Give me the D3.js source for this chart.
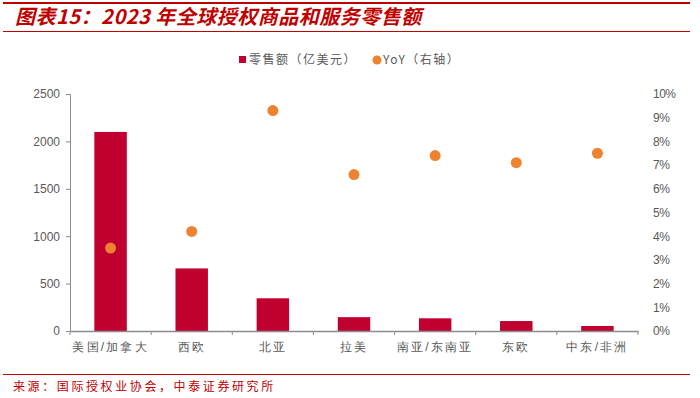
<!DOCTYPE html>
<html lang="zh">
<head>
<meta charset="UTF-8">
<title>2023年全球授权商品和服务零售额</title>
<style>
  body { margin: 0; background: #fff; }
  svg { display: block; font-family: "Noto Sans CJK SC", "Noto Sans", sans-serif; }
</style>
</head>
<body>
<script src="https://cdn.jsdelivr.net/npm/d3@7/dist/d3.min.js"></script>
<script>
  const width = 700, height = 398

  // 数据
  const regions = ["美国/加拿大", "西欧", "北亚", "拉美", "南亚/东南亚", "东欧", "中东/非洲"]
  const sales = [2100, 660, 345, 146, 134, 105, 53]        // 零售额（亿美元）
  const yoy = [0.035, 0.042, 0.093, 0.066, 0.074, 0.071, 0.075] // YoY（右轴）
  const leftTicks = [0, 500, 1000, 1500, 2000, 2500]
  const rightTicks = [0, 0.01, 0.02, 0.03, 0.04, 0.05, 0.06, 0.07, 0.08, 0.09, 0.10]

  const red = "#C00000", barColor = "#C0002F", dotColor = "#EE822F", grey = "#595959"

  const svg = d3.select("body").append("svg")
    .attr("width", width).attr("height", height)

  // 标题和分隔线
  svg.append("rect").attr("x", 3).attr("y", 2).attr("width", 687).attr("height", 2).attr("fill", red)
  svg.append("text").attr("x", 15).attr("y", 24)
    .attr("fill", red).attr("font-size", 20).attr("font-weight", "bold").attr("font-style", "italic")
    .attr("letter-spacing", 0.5)
    .text("图表15：2023 年全球授权商品和服务零售额")
  svg.append("rect").attr("x", 3).attr("y", 31).attr("width", 687).attr("height", 1).attr("fill", red)

  svg.append("rect").attr("x", 3).attr("y", 374).attr("width", 687).attr("height", 1).attr("fill", red)
  svg.append("text").attr("x", 13).attr("y", 391)
    .attr("fill", red).attr("font-size", 12).attr("letter-spacing", 2.6)
    .text("来源：国际授权业协会，中泰证券研究所")

  // 图例
  const lg = svg.append("g").attr("font-size", 12).attr("fill", grey).attr("letter-spacing", 1.5)
  lg.append("rect").attr("x", 239).attr("y", 56).attr("width", 7).attr("height", 7).attr("fill", barColor)
  lg.append("text").attr("x", 249).attr("y", 64).text("零售额（亿美元）")
  lg.append("circle").attr("cx", 377).attr("cy", 60).attr("r", 4.5).attr("fill", dotColor)
  lg.append("text").attr("x", 383).attr("y", 64).text("YoY（右轴）")

  // 比例尺
  const x0 = 70, x1 = 638, yTop = 94, yBot = 331
  const x = d3.scaleBand().domain(regions).range([x0, x1]).paddingInner(0.6).paddingOuter(0.3)
  const xb = d3.scaleBand().domain(regions).range([x0, x1])
  const yL = d3.scaleLinear().domain([0, 2500]).range([yBot, yTop])
  const yR = d3.scaleLinear().domain([0, 0.10]).range([yBot, yTop])

  // 柱子
  svg.append("g").selectAll("rect").data(sales).enter().append("rect")
    .attr("x", (d, i) => x(regions[i]))
    .attr("width", x.bandwidth())
    .attr("y", d => yL(d))
    .attr("height", d => yBot - yL(d))
    .attr("fill", barColor)

  // 左轴
  const axL = svg.append("g").attr("transform", `translate(${x0},0)`)
    .call(d3.axisLeft(yL).tickValues(leftTicks).tickSize(4).tickPadding(6).tickFormat(d3.format("d")))
  axL.select(".domain").attr("stroke", "#8c8c8c")
  axL.selectAll(".tick line").attr("stroke", "#8c8c8c")
  axL.selectAll("text").attr("fill", grey).attr("font-size", 12)
    .attr("font-family", "Liberation Sans, Arial, sans-serif")

  // 右轴（只有标签）
  const axR = svg.append("g").attr("transform", `translate(${x1 + 12},0)`)
    .call(d3.axisRight(yR).tickValues(rightTicks).tickSize(0).tickFormat(d3.format(".0%")))
  axR.select(".domain").remove()
  axR.selectAll("text").attr("fill", grey).attr("font-size", 12).attr("letter-spacing", -0.5)
    .attr("font-family", "Liberation Sans, Arial, sans-serif")

  // 横轴
  const axX = svg.append("g").attr("transform", `translate(0,${yBot})`)
    .call(d3.axisBottom(xb).tickSize(0).tickPadding(11))
  axX.select(".domain").attr("stroke", "#8c8c8c").attr("stroke-width", 1.5)
  axX.selectAll("text").attr("fill", grey).attr("font-size", 12).attr("letter-spacing", 2.2)
  svg.append("g").selectAll("line").data(d3.range(regions.length + 1)).enter().append("line")
    .attr("x1", i => x0 + i * xb.step()).attr("x2", i => x0 + i * xb.step())
    .attr("y1", yBot).attr("y2", yBot + 4)
    .attr("stroke", "#8c8c8c")

  // YoY 圆点
  svg.append("g").selectAll("circle").data(yoy).enter().append("circle")
    .attr("cx", (d, i) => xb(regions[i]) + xb.bandwidth() / 2)
    .attr("cy", d => yR(d))
    .attr("r", 5.5)
    .attr("fill", dotColor)
</script>
</body>
</html>
